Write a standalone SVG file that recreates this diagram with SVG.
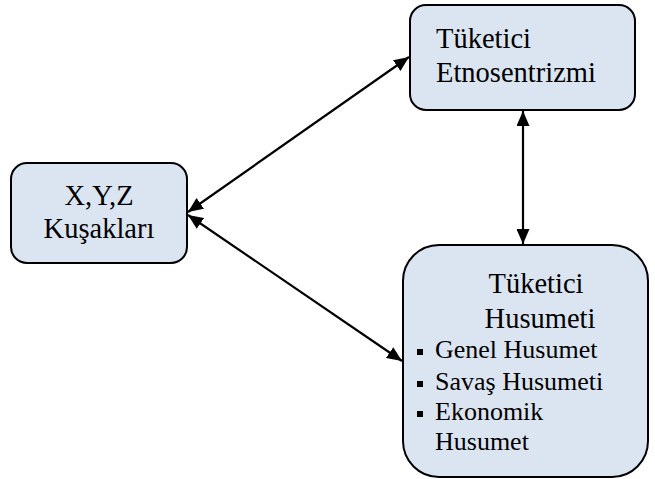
<svg xmlns="http://www.w3.org/2000/svg" width="655" height="479" viewBox="0 0 655 479">
<style>
.box{fill:#dbe5f1;stroke:#000;stroke-width:2}
.t{font-family:"Liberation Serif","Times New Roman",serif;font-size:28.5px;fill:#000}
.b{font-family:"Liberation Serif","Times New Roman",serif;font-size:26px;fill:#000}
.c{stroke:#000;stroke-width:2.2;fill:none;marker-start:url(#ah);marker-end:url(#ah)}
</style>
<defs>
<marker id="ah" viewBox="0 0 15 13" refX="15" refY="6.5" markerWidth="15" markerHeight="13" markerUnits="userSpaceOnUse" orient="auto-start-reverse">
<path d="M0,0 L15,6.5 L0,13 z" fill="#000"/>
</marker>
</defs>
<g id="connectors">
<line class="c" x1="188" y1="212" x2="409" y2="57"/>
<line class="c" x1="188" y1="215" x2="402" y2="361"/>
<line class="c" x1="523" y1="111" x2="523" y2="244"/>
</g>
<g id="etnosentrizm">
<rect class="box" x="410" y="5" width="225" height="105" rx="16"/>
<text class="t" x="436" y="48">Tüketici</text>
<text class="t" x="436" y="82">Etnosentrizmi</text>
</g>
<g id="kusaklar">
<rect class="box" x="11" y="163" width="176" height="100" rx="16"/>
<text class="t" x="99" y="205" text-anchor="middle">X,Y,Z</text>
<text class="t" x="99" y="238" text-anchor="middle">Kuşakları</text>
</g>
<g id="husumet">
<rect class="box" x="403" y="245" width="245" height="232" rx="36"/>
<text class="t" x="536" y="293" text-anchor="middle">Tüketici</text>
<text class="t" x="540" y="328" text-anchor="middle">Husumeti</text>
<rect x="417" y="349" width="6" height="6" fill="#000"/>
<text class="b" x="435" y="358">Genel Husumet</text>
<rect x="417" y="381" width="6" height="6" fill="#000"/>
<text class="b" x="435" y="390">Savaş Husumeti</text>
<rect x="417" y="411" width="6" height="6" fill="#000"/>
<text class="b" x="435" y="420">Ekonomik</text>
<text class="b" x="435" y="450">Husumet</text>
</g>
</svg>
